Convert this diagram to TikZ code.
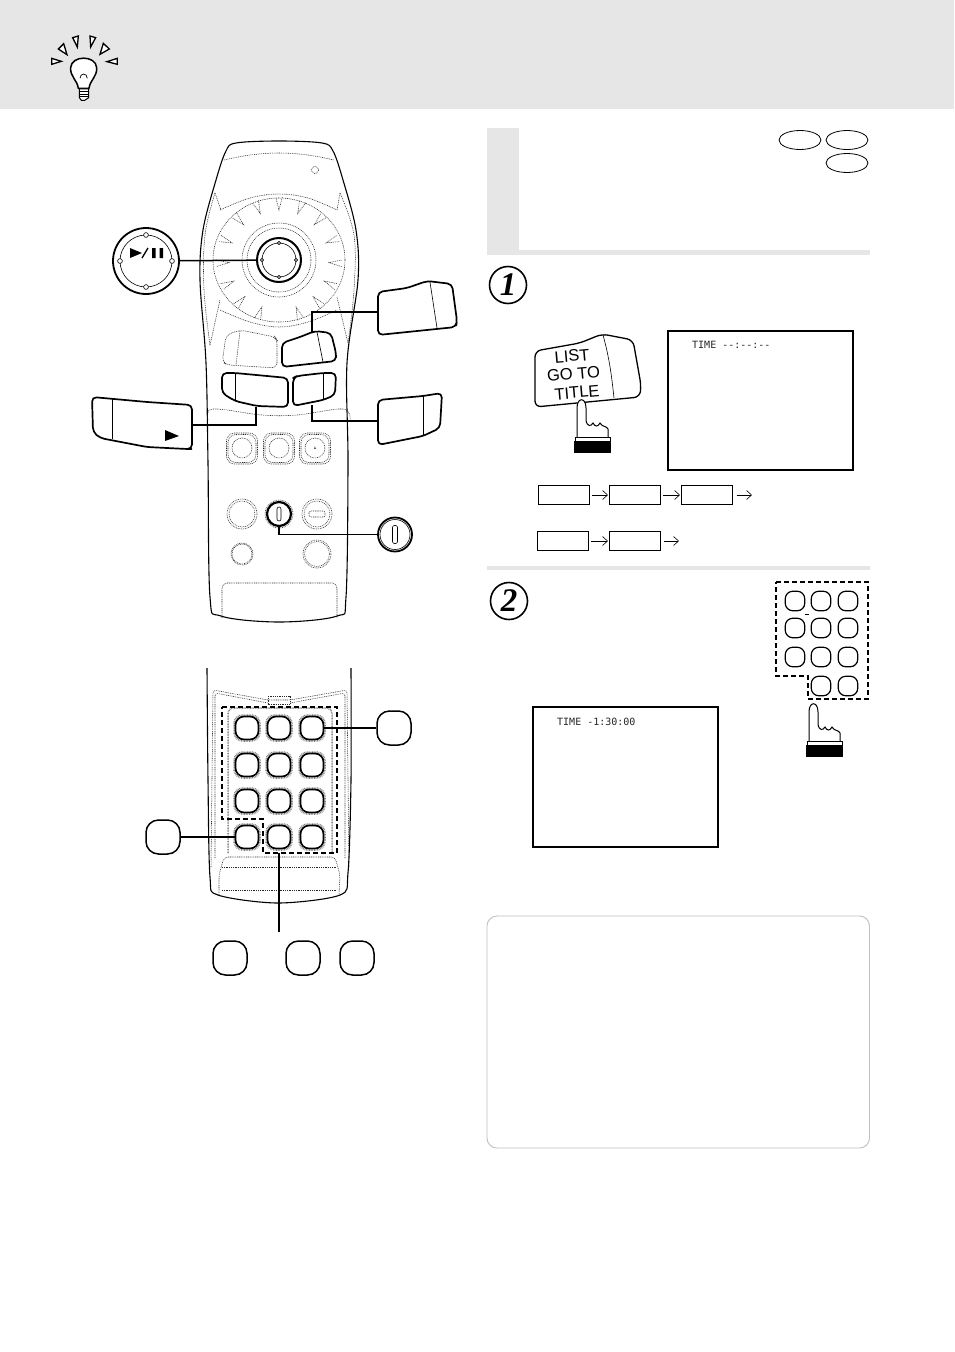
\documentclass[tikz,border=0pt]{standalone}
\usepackage{fontspec}
\setmainfont{Liberation Sans}
\newfontfamily\numfont{Liberation Serif}
\newfontfamily\scrfont{DejaVu Sans Mono}
\usetikzlibrary{arrows.meta,shapes.geometric}
\definecolor{band}{HTML}{E6E6E6}
\tikzset{
  x=1pt,y=-1pt,
  outl/.style={line width=1.1pt,line join=round},
  thick1/.style={line width=1.7pt,line join=round,rounded corners=4.5pt,fill=white},
  thinl/.style={line width=.6pt},
  dotl/.style={line width=.55pt,dash pattern=on .9pt off .9pt,black!85},
  dotg/.style={line width=1.5pt,dash pattern=on .8pt off .8pt,black!50},
  conn/.style={line width=1.5pt},
  dashr/.style={line width=1.3pt,dash pattern=on 5pt off 3pt},
  keybtn/.style={draw,line width=1.7pt,rounded corners=8.5pt,minimum size=23pt,inner sep=0pt,fill=white,outer sep=0pt},
  padbtn/.style={draw,line width=1.2pt,rounded corners=7.5pt,minimum size=19.5pt,inner sep=0pt,outer sep=0pt},
  callbtn/.style={draw,line width=1.5pt,rounded corners=12.5pt,minimum size=34pt,inner sep=0pt},
  flowbox/.style={draw,line width=.8pt,minimum width=51pt,minimum height=19.5pt,inner sep=0pt,outer sep=0pt},
  flowarr/.style={line width=.5pt,shorten <=2.5pt,shorten >=1.5pt,-{Straight Barb[length=5pt,width=9pt,line width=.6pt]}},
  screenbox/.style={draw,line width=2pt,inner sep=0pt,outer sep=0pt,anchor=north west},
  scrtext/.style={font=\scrfont\fontsize{10}{10}\selectfont,inner sep=0pt,anchor=west,black!85},
  stepnum/.style={circle,draw,line width=1.6pt,minimum size=37pt,inner sep=0pt,font=\numfont\bfseries\itshape\fontsize{33}{33}\selectfont},
  keytxt/.style={font=\fontsize{16.5}{16.5}\selectfont,inner sep=0pt,rotate=5},
  raysty/.style={fill=white,line width=1.3pt,line join=miter},
  handpic/.pic={
    \draw[fill=white,line width=1pt] (3,-3) -- (3,-33) .. controls (3,-44) and (12,-44) .. (12,-33) -- (12,-20)
      .. controls (13,-15) and (17,-14) .. (19,-18) .. controls (21,-14) and (24,-14) .. (26,-18)
      .. controls (28,-14) and (33,-15) .. (34,-12) -- (34,-3);
    \draw[fill=white,line width=.8pt] (1,-4) rectangle (36.5,0);
    \fill (0,0) rectangle (37,12);
  }
}
\begin{document}
\begin{tikzpicture}
\useasboundingbox (0,0) rectangle (954,1352);
\fill[white] (0,0) rectangle (954,1352);
% header
\fill[band] (0,0) rectangle (954,109);
% bulb
\begin{scope}[shift={(40,25)},scale=.3333]
  \draw[fill=white,line width=1.5pt,line join=round] (115,190) .. controls (112,165) and (90,155) .. (92,128)
    .. controls (94,90) and (168,90) .. (170,128) .. controls (172,155) and (150,165) .. (147,190) -- cycle;
  \draw[line width=1pt,fill=white] (118,192) -- (146,192) -- (146,218) -- (134,226) -- (124,226) -- (118,218) -- cycle;
  \draw[line width=1pt] (118,200) -- (146,200) (118,208) -- (146,208) (118,216) -- (146,216);
  \draw[line width=.7pt] (120,160) .. controls (120,143) and (142,143) .. (142,160);
  \draw[raysty] (35,100) -- (64,109) -- (35,118) -- cycle;
  \draw[raysty] (55,72) -- (71,56) -- (81,89) -- cycle;
  \draw[raysty] (98,38) -- (115,33) -- (112,66) -- cycle;
  \draw[raysty] (150,33) -- (167,38) -- (152,66) -- cycle;
  \draw[raysty] (190,55) -- (208,72) -- (180,88) -- cycle;
  \draw[raysty] (232,100) -- (232,118) -- (201,110) -- cycle;
\end{scope}
% ---------- remote (upper) ----------
\draw[outl,fill=white] plot[smooth cycle,tension=.55] coordinates {(226,151) (236,143) (279,141) (322,143) (333,151)
  (343,180) (356,230) (358,280) (347,363) (348,463) (346,597) (337,616) (279,622) (221,616) (210,597) (208,463) (206,363) (200,280) (203,230) (216,180)};
\draw[dotl] plot[smooth,tension=.6] coordinates {(224,160) (250,155) (279,153) (308,155) (334,160)};
\draw[dotl] (315,170) circle (3.6);
% wheel
\draw[dotl] plot[smooth,tension=.6] coordinates {(220,210) (250,198) (279,194) (308,198) (337,210)};
\draw[dotl] plot[smooth,tension=.6] coordinates {(220,310) (250,322) (279,327) (308,322) (337,310)};
\draw[dotl] plot[smooth,tension=.6] coordinates {(215,193) (205,235) (204,290) (210,345)};
\draw[dotl] plot[smooth,tension=.6] coordinates {(340,193) (354,235) (354,290) (348,343)};
\draw[dotl] (215,193) -- (221,210) (210,345) -- (220,300) (340,193) -- (337,210) (348,343) -- (337,297);
\begin{scope}[shift={(279,260)}]
  \draw[dotl] (0,0) ellipse (66 and 62);
  \draw[dotl] (0,0) circle (37);
  \draw[dotl] (0,0) circle (32);
  \foreach \a in {90,68,45,20,-3,-25,-47,-70,-110,-133,-155,-177,160,135,112}
    \draw[dotl] (-\a+3:63) -- (-\a:50) -- (-\a-3:63);
\end{scope}
\node[circle,draw,line width=2pt,minimum size=44pt,inner sep=0pt,fill=white] (wheelbtn) at (279,260) {};
\draw[thinl] (279,260) circle (17);
\foreach \a in {0,90,180,270} \draw[thinl,fill=white] (279,260) ++(\a:17) circle (1.6);
% play callout
\node[circle,draw,line width=1.8pt,minimum size=66pt,inner sep=0pt] (playcall) at (146,261) {};
\draw[thinl] (146,261) circle (26);
\foreach \a in {0,90,180,270} \draw[thinl,fill=white] (146,261) ++(\a:26) circle (2.4);
\fill (130,248) -- (142,253) -- (130,258) -- cycle;
\draw[line width=1.3pt] (142,258) -- (148,248);
\fill (152,248) rectangle (155.5,258) (159.5,248) rectangle (163,258);
\draw[conn] (playcall) -- (wheelbtn);
% upper dotted button
\draw[dotl,rounded corners=5pt] (224,350) -- (222,362) -- (228,365) -- (277,368) -- (277,340) -- (275,337) -- (240,330) -- (226,335) -- cycle;
\draw[dotl] (240,331) -- (236,365);
\draw[dotl] plot[smooth,tension=.6] coordinates {(208,420) (213,409) (262,415) (297,415) (343,409) (350,420)};
% list button
\draw[thick1] (282,343) -- (282,367) -- (336,361) -- (336,353) -- (331,333) -- (315,331) -- (300,337) -- cycle;
\draw[thinl] (317,332) -- (323,362);
% go-to buttons
\draw[thick1] (222,373) -- (222,393) -- (235,401) -- (257,406) -- (288,407) -- (288,378) -- (267,376) -- (235,373) -- cycle;
\draw[thinl] (235,373) -- (235,401);
\draw[thick1] (293,378) -- (293,406) -- (323,400) -- (335,395) -- (336,373) -- (323,373) -- (297,376) -- cycle;
\draw[thinl] (323,373) -- (323,400);
% three rounded squares
\foreach \c in {242,279,315} {
  \draw[dotl,rounded corners=8pt] (\c-15.5,433) rectangle (\c+15.5,464);
  \draw[dotl,rounded corners=8pt] (\c-14,434.5) rectangle (\c+14,462.5);
  \draw[dotl] (\c,448) circle (10);
}
\draw[dotl] (315,448) circle (1);
% round buttons
\foreach \c/\r/\y in {242/15/514,242/13/514,317/15/514,317/13/514,279/14/514,242/11/554,242/10/554,317/14/554,317/12.5/554}
  \draw[dotl] (\c,\y) circle (\r);
\draw[dotl,rounded corners=2pt] (309,511) rectangle (325,517);
\node[circle,draw,line width=2.2pt,minimum size=24pt,inner sep=0pt,fill=white] (onebtn) at (279,514) {};
\draw[thinl,rounded corners=2pt] (277,507) rectangle (281,521);
% bottom panel
\draw[dotl,rounded corners=5pt] (222,618) -- (222,583) -- (337,583) -- (337,618);
% callouts
\draw[thick1] (378,292) -- (378,335) -- (456,327) -- (457,321) -- (452,284) -- (427,281) -- (407,288) -- cycle;
\draw[thinl] (430,282) -- (437,328);
\coordinate (listcall) at (378,312);
\coordinate (listbtn) at (312,332);
\draw[conn] (listcall) -| (listbtn);
\draw[thick1] (92,397) -- (93,432) -- (100,438) -- (147,447) -- (187,449) -- (192,449) -- (192,405) -- (147,402) -- cycle;
\draw[thinl] (112,399) -- (112,439);
\fill (165,430) -- (179,436) -- (165,441) -- cycle;
\coordinate (fwdcall) at (192,425);
\coordinate (fwdbtn) at (256,407);
\draw[conn] (fwdcall) -| (fwdbtn);
\draw[thick1] (378,400) -- (378,445) -- (423,436) -- (440,428) -- (442,393) -- (423,396) -- cycle;
\draw[thinl] (423,396) -- (423,436);
\coordinate (revcall) at (378,421);
\coordinate (revbtn) at (312,405);
\draw[conn] (revcall) -| (revbtn);
\node[circle,draw,line width=1.8pt,minimum size=34pt,inner sep=0pt] (onecall) at (395,534.5) {};
\draw[thinl] (395,534.5) circle (15);
\draw[thinl,rounded corners=2pt] (392.5,525.5) rectangle (397.5,543.5);
\draw[conn] (onecall) -| (onebtn);
% ---------- remote (lower) ----------
\draw[outl] plot[smooth,tension=.5] coordinates {(207,668) (208,780) (210,877) (218,895) (278,903) (340,895) (348,873) (351,780) (351,668)};
\draw[dotl,rounded corners=3pt] (211,867) -- (213,690) -- (268,700) -- (290,700) -- (347,690) -- (349,867);
\draw[dotl,rounded corners=3pt] (215,858) -- (215,693) -- (268,703);
\draw[dotl,rounded corners=3pt] (345,858) -- (345,693) -- (290,703);
\draw[dotl] (268,696) rectangle (290,704);
\draw[dotg,rounded corners=5pt] (228,853) -- (228,708) -- (332,708) -- (332,853);
\draw[dotl,rounded corners=4pt] (219,895) -- (219,875) -- (224,857) -- (335,857) -- (340,875) -- (339,895);
\draw[dotl] (222,867) -- (336,867);
\draw[dotl] (222,890) -- (336,890);
\draw[dashr] (222,707) -- (337,707) -- (337,853) -- (263,853) -- (263,819) -- (222,819) -- cycle;
\foreach \n/\x/\y in {a/247/728,b/279/728,c/312/728,d/247/765,e/279/765,f/312/765,g/247/801,h/279/801,i/312/801,j/247/837,k/279/837,l/312/837}{
  \draw[dotg,rounded corners=8.5pt] (\x-13,\y-13) rectangle (\x+13,\y+13);
  \node[keybtn] (k\n) at (\x,\y) {};
}
\node[callbtn] (c1) at (394,728) {};
\node[callbtn] (c2) at (163,837) {};
\node[callbtn] (c3) at (230,958) {};
\node[callbtn] (c4) at (303,958) {};
\node[callbtn] (c5) at (357,958) {};
\draw[conn] (kc) -- (c1);
\draw[conn] (c2) -- (kj);
\coordinate (pad0) at (279,853);
\coordinate (pad1) at (279,932);
\draw[conn] (pad0) -- (pad1);
% ---------- right column ----------
\fill[band] (487,128) rectangle (519,255);
\fill[band] (519,250) rectangle (870,255);
\node[ellipse,draw,line width=.8pt,minimum width=42pt,minimum height=19pt,inner sep=0pt] (d1) at (800,140) {};
\node[ellipse,draw,line width=.8pt,minimum width=42pt,minimum height=19pt,inner sep=0pt] (d2) at (847,140) {};
\node[ellipse,draw,line width=.8pt,minimum width=42pt,minimum height=19pt,inner sep=0pt] (d3) at (847,163) {};
\node[stepnum] (s1) at (508,285) {1};
% list key with hand
\draw[thick1,line width=1.3pt,rounded corners=6pt] (535,351) -- (535,407) -- (640,397) -- (641,385) -- (633,340) -- (602,334) -- (580,343) -- cycle;
\draw[thinl] (603,335) .. controls (610,360) and (612,380) .. (614,398);
\node[keytxt] (kl1) at (572,356) {LIST};
\node[keytxt] (kl2) at (573.5,374) {GO TO};
\node[keytxt] (kl3) at (577,392.5) {TITLE};
\pic at (574,441) {handpic};
\node[screenbox,minimum width=185pt,minimum height=139pt] (scr1) at (668,331) {};
\node[scrtext] (t1) at (692,345) {TIME --:--:--};
% flow
\node[flowbox] (f1) at (564,495) {};
\node[flowbox] (f2) at (635,495) {};
\node[flowbox] (f3) at (707,495) {};
\coordinate (f4) at (752,495);
\draw[flowarr] (f1) -- (f2);
\draw[flowarr] (f2) -- (f3);
\draw[flowarr,shorten >=0pt,shorten <=4pt] (f3) -- (f4);
\node[flowbox] (g1) at (563,541) {};
\node[flowbox] (g2) at (635,541) {};
\coordinate (g3) at (679,541);
\draw[flowarr] (g1) -- (g2);
\draw[flowarr,shorten >=0pt,shorten <=3pt] (g2) -- (g3);
\fill[band] (487,566) rectangle (870,570);
\node[stepnum] (s2) at (509,601) {2};
% keypad
\draw[dashr,line width=1.2pt] (776,582) -- (868,582) -- (868,699) -- (808,699) -- (808,676) -- (776,676) -- cycle;
\foreach \n/\x/\y in {a/795/601,b/821/601,c/848/601,d/795/628,e/821/628,f/848/628,g/795/657,h/821/657,i/848/657,k/821/686,l/848/686}
  \node[padbtn] (p\n) at (\x,\y) {};
\draw[line width=.5pt] (805,614) -- (809,614);
\pic at (806,745) {handpic};
\node[screenbox,minimum width=185pt,minimum height=140pt] (scr2) at (533,707) {};
\node[scrtext] (t2) at (557,722) {TIME -1:30:00};
% note box
\draw[black!25,line width=.9pt,rounded corners=10pt] (487,916) rectangle (869.5,1148);
\end{tikzpicture}
\end{document}
